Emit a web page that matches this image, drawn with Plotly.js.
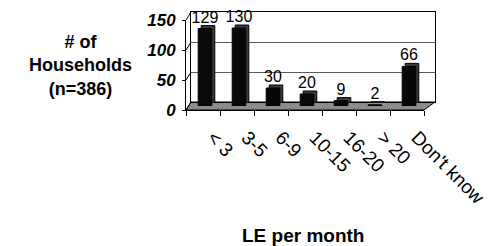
<!DOCTYPE html>
<html>
<head>
<meta charset="utf-8">
<script src="https://cdn.plot.ly/plotly-3.0.1.min.js"></script>
<style>html,body{margin:0;padding:0;background:#fff;}#chart{width:493px;height:246px;}</style>
</head>
<body>
<div id="chart"></div>
<script>
// ---- data ----
const categories = ['< 3', '3-5', '6-9', '10-15', '16-20', '> 20', "Don't know"];
const households = [129, 130, 30, 20, 9, 2, 66];
const yTickValues = [0, 50, 100, 150];
const yTickLabels = ['0', '50', '100', '150'];
const yTitleText = '# of<br>Households<br>(n=386)';
const xTitleText = 'LE per month';

// ---- geometry (plot area in px) ----
const PW = 249, PH = 98;
const fx = v => v / PW, fy = v => v / PH;
const FONT = 'Liberation Sans, Arial, sans-serif';
const yMax = 150;

const frontX = [0, fx(238)], frontY = [0, fy(90)];
const backX = [fx(5), 1], backY = [fy(8), 1];
const barX = [fx(2), fx(240)], barY = [fy(4), fy(94)];
const shX = [fx(5), fx(243)], shY = [fy(7), fy(97)];

const traces = [
  { // back wall subplot carrier
    type: 'scatter', mode: 'none', x: [null], y: [null], xaxis: 'x2', yaxis: 'y2',
    hoverinfo: 'skip', showlegend: false
  },
  { // front axes carrier
    type: 'scatter', mode: 'none', x: categories, y: households.map(() => null), xaxis: 'x', yaxis: 'y',
    hoverinfo: 'skip', showlegend: false
  },
  { // depth / shadow faces
    type: 'bar', x: categories, y: households, xaxis: 'x3', yaxis: 'y3',
    width: 0.4, marker: {color: '#3a3a3a', line: {color: '#000', width: 1}},
    hoverinfo: 'skip', showlegend: false
  },
  { // front faces
    type: 'bar', x: categories, y: households, xaxis: 'x4', yaxis: 'y4',
    width: 0.4, marker: {color: '#080808', line: {color: '#000', width: 1}},
    text: households.map(String), textposition: 'outside', cliponaxis: false, constraintext: 'none',
    textfont: {family: FONT, size: 16, color: '#000'},
    showlegend: false
  }
];

const hidden = {visible: true, showgrid: false, zeroline: false, showticklabels: false, ticks: '', showline: false, fixedrange: true};

// floor and left-wall diagonals
const shapes = [{
  type: 'path', xref: 'paper', yref: 'paper', layer: 'below',
  path: `M 0 0 L ${frontX[1]} 0 L 1 ${backY[0]} L ${backX[0]} ${backY[0]} Z`,
  fillcolor: '#8c8c8c', line: {color: '#000', width: 1}
}];
yTickValues.forEach(v => {
  const yf = frontY[1] * v / yMax;
  const yb = backY[0] + (backY[1] - backY[0]) * v / yMax;
  shapes.push({type: 'line', xref: 'paper', yref: 'paper', x0: 0, y0: yf, x1: backX[0], y1: yb,
    line: {color: '#000', width: 1}, layer: 'below'});
});

const layout = {
  width: 493, height: 246,
  margin: {l: 186, r: 58, t: 12, b: 136},
  paper_bgcolor: '#fff', plot_bgcolor: 'rgba(0,0,0,0)',
  showlegend: false,
  font: {family: FONT, color: '#000'},
  xaxis: {
    domain: frontX, anchor: 'y', type: 'category', range: [-0.5, 6.5],
    showline: true, linecolor: '#000', linewidth: 1, showgrid: false, zeroline: false,
    ticks: 'outside', ticklen: 5, tickcolor: '#000', tickson: 'boundaries',
    tickangle: 45, ticklabelstandoff: 8, ticklabelshift: 10,
    tickfont: {family: FONT, size: 19, color: '#000'}, fixedrange: true
  },
  yaxis: {
    domain: frontY, anchor: 'x', range: [0, yMax],
    tickvals: yTickValues, ticktext: yTickLabels,
    showline: true, linecolor: '#000', linewidth: 1, showgrid: false, zeroline: false,
    ticks: 'outside', ticklen: 3, tickcolor: '#000', ticklabelstandoff: 3,
    tickfont: {family: FONT, size: 17, color: '#000', weight: 'bold', style: 'italic'}, fixedrange: true
  },
  xaxis2: {domain: backX, anchor: 'y2', range: [0, 1], visible: true, showgrid: false, zeroline: false,
    showticklabels: false, ticks: '', showline: true, mirror: true, linecolor: '#000', linewidth: 1, fixedrange: true},
  yaxis2: {domain: backY, anchor: 'x2', range: [0, yMax], tickvals: yTickValues, showgrid: true,
    gridcolor: '#5a5a5a', gridwidth: 1, zeroline: false, showticklabels: false, ticks: '',
    showline: true, mirror: true, linecolor: '#000', linewidth: 1, fixedrange: true},
  xaxis3: Object.assign({}, hidden, {domain: shX, anchor: 'y3', type: 'category', range: [-0.5, 6.5]}),
  yaxis3: Object.assign({}, hidden, {domain: shY, anchor: 'x3', range: [0, yMax]}),
  xaxis4: Object.assign({}, hidden, {domain: barX, anchor: 'y4', type: 'category', range: [-0.5, 6.5]}),
  yaxis4: Object.assign({}, hidden, {domain: barY, anchor: 'x4', range: [0, yMax]}),
  shapes: shapes,
  annotations: [
    {text: yTitleText, xref: 'paper', yref: 'paper', x: (80 - 186) / PW, y: (110 - 65) / PH,
     xanchor: 'center', yanchor: 'middle', showarrow: false, align: 'center',
     font: {family: FONT, size: 18, color: '#000', weight: 'bold'}},
    {text: xTitleText, xref: 'paper', yref: 'paper', x: (303 - 186) / PW, y: (110 - 235) / PH,
     xanchor: 'center', yanchor: 'middle', showarrow: false,
     font: {family: FONT, size: 19, color: '#000', weight: 'bold'}}
  ]
};

Plotly.newPlot('chart', traces, layout, {displayModeBar: false, staticPlot: true});
</script>
</body>
</html>
